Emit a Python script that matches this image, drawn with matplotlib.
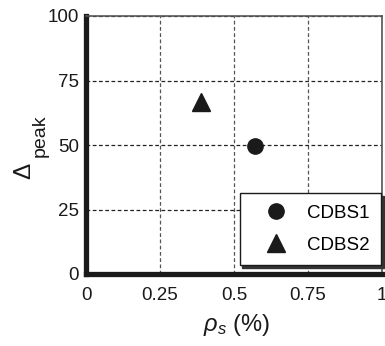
import matplotlib
matplotlib.use("Agg")
import matplotlib.pyplot as plt

plt.rcParams['font.family'] = ['Liberation Sans', 'DejaVu Sans']
plt.rcParams['mathtext.fontset'] = 'custom'
plt.rcParams['mathtext.rm'] = 'Liberation Sans'
plt.rcParams['mathtext.it'] = 'Liberation Sans:italic'

series = ["CDBS1", "CDBS2"]
rho_s = [0.57, 0.39]
delta_peak = [49.6, 66.5]
markers = ["o", "^"]
xticks = [0, 0.25, 0.5, 0.75, 1]
xticklabels = ["0", "0.25", "0.5", "0.75", "1"]
yticks = [0, 25, 50, 75, 100]

W, H = 385, 346
fig = plt.figure(figsize=(W / 100, H / 100), dpi=100)
ax = fig.add_axes([86 / W, (H - 274) / H, (382 - 86) / W, (274 - 16) / H])

for name, x, y, m in zip(series, rho_s, delta_peak, markers):
    ax.plot([x], [y], linestyle='none', marker=m, color='#1a1a1a',
            markersize=11 if m == 'o' else 12.5, label=name, zorder=5)

ax.set_xlim(0, 1)
ax.set_ylim(0, 100)
ax.set_xticks(xticks)
ax.set_xticklabels(xticklabels)
ax.set_yticks(yticks)
ax.tick_params(length=0, labelsize=13.5, colors='#1a1a1a')
ax.tick_params(axis='x', pad=9)
ax.tick_params(axis='y', pad=5)
ax.xaxis.grid(True, linestyle=(0, (3, 2)), color='#555555', linewidth=0.9)
ax.yaxis.grid(True, linestyle=(0, (3, 2)), color='#222222', linewidth=0.9)

for s in ['left', 'bottom']:
    ax.spines[s].set_linewidth(3.8)
    ax.spines[s].set_color('#1a1a1a')
for s in ['top', 'right']:
    ax.spines[s].set_linewidth(1.2)
    ax.spines[s].set_color('#555555')
    ax.spines[s].set_linestyle((0, (3, 1)))

# axis labels
fig.text(236 / W, (H - 331) / H, r'$\rho_s$ (%)', fontsize=17,
         ha='center', va='baseline', color='#1a1a1a')
fig.text(30.5 / W, (H - 179) / H, '\u0394', fontsize=17.5, rotation=90,
         rotation_mode='anchor', ha='left', va='baseline', color='#1a1a1a')
fig.text(45 / W, (H - 157) / H, 'peak', fontsize=14, rotation=90,
         rotation_mode='anchor', ha='left', va='baseline', color='#1a1a1a')

leg = ax.legend(loc='lower right', bbox_to_anchor=(0.9966, 0.035),
                fontsize=13.5, frameon=True, fancybox=False,
                shadow={'color': '#333333', 'alpha': 1},
                edgecolor='#1a1a1a', framealpha=1,
                borderpad=0.6, labelspacing=0.8, handletextpad=0.3,
                borderaxespad=0.0, handlelength=2.7)
leg.get_frame().set_linewidth(1.0)

fig.savefig("out.png", dpi=100)
